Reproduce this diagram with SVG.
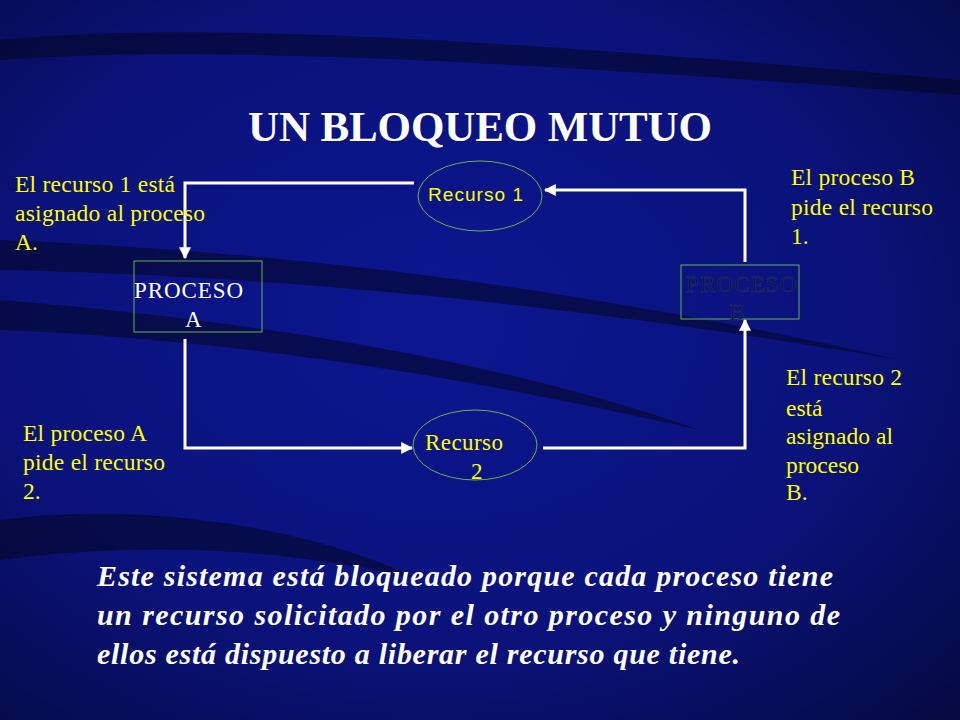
<svg xmlns="http://www.w3.org/2000/svg" width="960" height="720" viewBox="0 0 960 720">
<defs>
<radialGradient id="bg" cx="0.45" cy="0.45" r="0.75">
<stop offset="0" stop-color="#0c1690"/><stop offset="0.6" stop-color="#0a127a"/><stop offset="1" stop-color="#050a45"/>
</radialGradient>
<marker id="ah" viewBox="0 0 10 10" refX="9" refY="5" markerWidth="4" markerHeight="4" orient="auto"><path d="M0,0 L10,5 L0,10 z" fill="#ffffff"/></marker>
<style>
.y{font-family:"Liberation Serif",serif;font-size:23.5px;fill:#ffff00}
.node{fill:none;stroke:#6ab04c;stroke-width:1}
.c{fill:none;stroke:#ffffff;stroke-width:3;marker-end:url(#ah)}
</style>
</defs>
<rect width="960" height="720" fill="url(#bg)"/>
<g fill="#030620" opacity="0.55">
<path d="M0,40 C200,20 500,40 960,80 L960,95 C500,60 200,45 0,60 z"/>
<path d="M0,240 C250,250 550,280 900,360 C550,300 250,275 0,270 z"/>
<path d="M0,300 C250,320 500,360 700,430 C480,380 250,340 0,330 z"/>
<path d="M0,520 C150,500 320,530 420,580 C300,550 150,540 0,560 z"/>
</g>
<text x="248" y="141" textLength="464" font-family="Liberation Serif,serif" font-weight="bold" font-size="43" fill="#ffffff">UN BLOQUEO MUTUO</text>
<g id="connectors">
<path class="c" d="M414,183 H185 V258"/>
<path class="c" d="M745,262 V190 H545"/>
<path class="c" d="M185,339 V448 H412"/>
<path class="c" d="M543,448 H745 V320"/>
</g>
<g id="recurso1"><ellipse class="node" cx="480" cy="196" rx="62" ry="35"/><text x="428" y="201" textLength="95" font-family="Liberation Sans,sans-serif" font-size="19" fill="#ffff00">Recurso 1</text></g>
<g id="recurso2"><ellipse class="node" cx="475" cy="445" rx="62" ry="35"/><text x="425" y="450" textLength="78" font-family="Liberation Serif,serif" font-size="23" fill="#ffff00">Recurso</text><text x="471" y="479" font-family="Liberation Serif,serif" font-size="23" fill="#ffff00">2</text></g>
<g id="procesoA"><rect class="node" x="134" y="261" width="128" height="71"/><text x="134" y="298" textLength="109" font-family="Liberation Serif,serif" font-size="23" fill="#ffffff">PROCESO</text><text x="185" y="327" font-family="Liberation Serif,serif" font-size="23" fill="#ffffff">A</text></g>
<g id="procesoB"><rect class="node" x="681" y="265" width="118" height="54"/><text x="686" y="292" textLength="110" font-family="Liberation Serif,serif" font-size="23" fill="#0a1060" stroke="#2a3a50" stroke-width="0.5">PROCESO</text><text x="729" y="320" font-family="Liberation Serif,serif" font-size="23" fill="#0a1060" stroke="#2a3a50" stroke-width="0.5">B</text></g>
<g class="y">
<text x="15" y="192" textLength="160">El recurso 1 está</text><text x="15" y="221" textLength="190">asignado al proceso</text><text x="15" y="250">A.</text>
<text x="791" y="185" textLength="124">El proceso B</text><text x="791" y="215" textLength="142">pide el recurso</text><text x="791" y="244">1.</text>
<text x="23" y="441" textLength="124">El proceso A</text><text x="23" y="470" textLength="142">pide el recurso</text><text x="23" y="499">2.</text>
<text x="786" y="385" textLength="116">El recurso 2</text><text x="786" y="416">está</text><text x="786" y="444" textLength="107">asignado al</text><text x="786" y="473">proceso</text><text x="786" y="500">B.</text>
</g>
<g font-family="Liberation Serif,serif" font-style="italic" font-weight="bold" font-size="30" fill="#ffffff" xml:space="preserve">
<text x="97" y="586" textLength="736">Este sistema está bloqueado porque cada   proceso tiene</text>
<text x="97" y="625" textLength="743">un recurso solicitado por el otro  proceso    y ninguno de</text>
<text x="97" y="664" textLength="643">ellos está dispuesto a liberar el recurso que tiene.</text>
</g>
</svg>
